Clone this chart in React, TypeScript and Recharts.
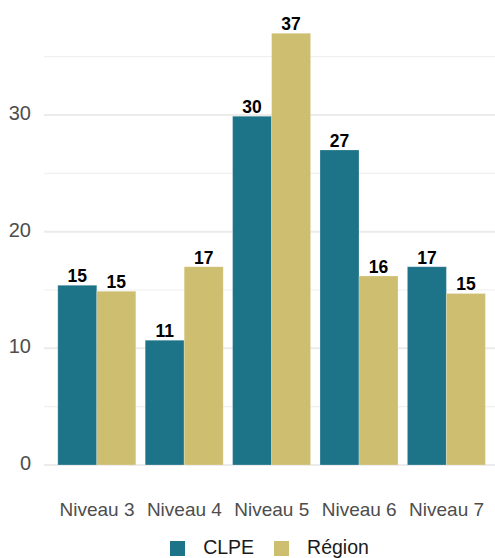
import React from 'react';
import { BarChart, Bar, XAxis, YAxis, CartesianGrid, Legend, LabelList } from 'recharts';

const categories = ['Niveau 3', 'Niveau 4', 'Niveau 5', 'Niveau 6', 'Niveau 7'];
const clpe = [15.4, 10.7, 29.9, 27.0, 17.0];
const region = [14.9, 17.0, 37.0, 16.2, 14.7];
const yTicks = [0, 10, 20, 30];
const minorGrid = [5, 15, 25, 35];

const TEAL = '#1d7387';
const GOLD = '#cebe70';
const FONT = '"Liberation Sans", Arial, sans-serif';

const data = categories.map((name, i) => ({ name, CLPE: clpe[i], Région: region[i] }));

const LegendContent = () => (
  <div
    style={{
      display: 'flex',
      justifyContent: 'center',
      alignItems: 'center',
      paddingLeft: 44,
      height: 22,
      fontFamily: FONT,
      fontSize: 19.5,
      lineHeight: '22px',
      color: '#1a1a1a',
    }}
  >
    <span style={{ width: 15, height: 15, background: TEAL, marginRight: 18, marginTop: 2 }} />
    <span>CLPE</span>
    <span style={{ width: 15, height: 15, background: GOLD, marginLeft: 20, marginRight: 18, marginTop: 2 }} />
    <span>Région</span>
  </div>
);

const labelProps = {
  position: 'top' as const,
  offset: 3,
  formatter: (v: number) => Math.round(v),
  style: { fontFamily: FONT, fontSize: 17.5, fontWeight: 'bold', fill: '#000' },
};

export default function App() {
  return (
    <div style={{ position: 'absolute', left: 0, top: 0, width: 495, height: 558, background: '#fff' }}>
      <BarChart
        width={495}
        height={558}
        data={data}
        margin={{ top: 11.7, right: 0, left: 0, bottom: 0 }}
        barCategoryGap={4.5}
        barGap={0}
      >
        <CartesianGrid vertical={false} horizontalValues={minorGrid} stroke="#f0f0f0" strokeWidth={1.2} />
        <CartesianGrid vertical={false} horizontalValues={yTicks} stroke="#ebebeb" strokeWidth={2} />
        <XAxis
          dataKey="name"
          height={49.4}
          axisLine={false}
          tickLine={false}
          tickSize={0}
          tickMargin={16}
          interval={0}
          padding={{ left: 9.3, right: 4.7 }}
          tick={{ fontFamily: FONT, fontSize: 19, fill: '#4d4d4d' }}
        />
        <YAxis
          width={44}
          domain={[-1.85, 38.85]}
          allowDataOverflow
          ticks={yTicks}
          axisLine={false}
          tickLine={false}
          tickSize={0}
          tickMargin={13}
          tick={{ fontFamily: FONT, fontSize: 20, fill: '#4d4d4d', dy: -2 }}
        />
        <Legend verticalAlign="bottom" height={22} content={<LegendContent />} />
        <Bar dataKey="CLPE" fill={TEAL} stroke="#ffffff" strokeOpacity={0.4} strokeWidth={0.6} isAnimationActive={false}>
          <LabelList dataKey="CLPE" {...labelProps} />
        </Bar>
        <Bar dataKey="Région" fill={GOLD} stroke="#ffffff" strokeOpacity={0.4} strokeWidth={0.6} isAnimationActive={false}>
          <LabelList dataKey="Région" {...labelProps} />
        </Bar>
      </BarChart>
    </div>
  );
}
